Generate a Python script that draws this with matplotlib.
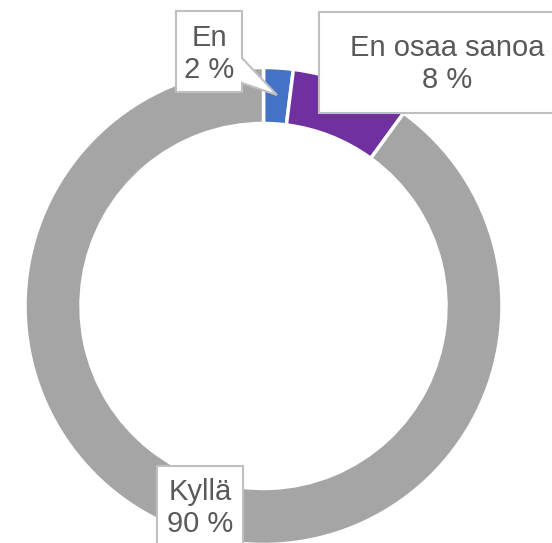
import matplotlib.pyplot as plt
from matplotlib.patches import Polygon, Rectangle

labels = ['En', 'En osaa sanoa', 'Kyllä']
values = [2, 8, 90]
colors = ['#4472C4', '#7030A0', '#A5A5A5']

W, H = 552, 543

fig = plt.figure(figsize=(W / 100, H / 100), dpi=100)
ax = fig.add_axes([0, 0, 1, 1])
ax.set_xlim(0, W)
ax.set_ylim(0, H)
ax.set_aspect('equal')
ax.axis('off')


def py(y):
    # pixel row (from top) -> data y
    return H - y


# donut
ax.pie(values, colors=colors, startangle=90, counterclock=False,
       center=(263.5, py(306)), radius=238.5, frame=True,
       wedgeprops=dict(width=56, edgecolor='white', linewidth=2.5))
ax.set_xlim(0, W)
ax.set_ylim(0, H)
ax.axis('off')

box_kw = dict(facecolor='white', edgecolor='#BFBFBF', linewidth=1.5, zorder=3)
txt_kw = dict(ha='center', va='center', color='#595959', fontsize=21,
              family=['Liberation Sans', 'DejaVu Sans'], zorder=4)

# callout for "En"
pts = [(176, 11), (242, 11), (242, 58), (277, 95), (242, 83), (242, 92), (176, 92)]
ax.add_patch(Polygon([(x, py(y)) for x, y in pts], closed=True, **box_kw))
ax.text(209, py(54), f'{labels[0]}\n{values[0]} %', **txt_kw)

# "En osaa sanoa"
ax.add_patch(Rectangle((319, py(113)), 260, 101, **box_kw))
ax.text(447, py(64), f'{labels[1]}\n{values[1]} %', **txt_kw)

# "Kyllä"
ax.add_patch(Rectangle((157, py(560)), 86, 94, **box_kw))
ax.text(200, py(508), f'{labels[2]}\n{values[2]} %', **txt_kw)

fig.savefig('out.png', dpi=100)
